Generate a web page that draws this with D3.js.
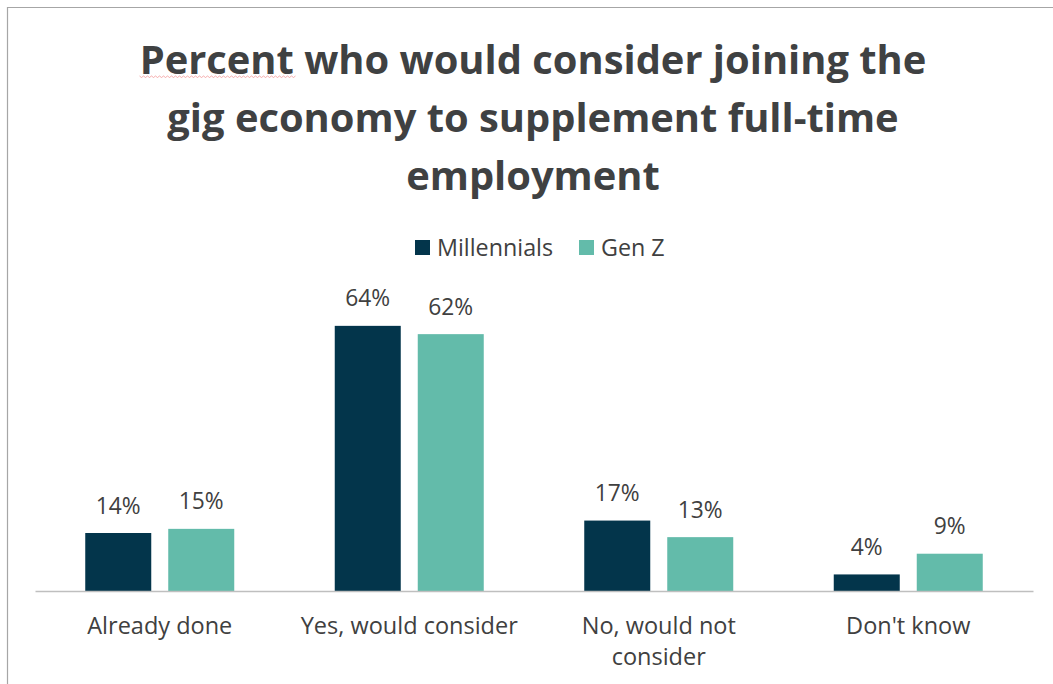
<!DOCTYPE html>
<html>
<head>
<meta charset="utf-8">
<script src="https://cdn.jsdelivr.net/npm/d3@7"></script>
<style>
  html, body { margin: 0; padding: 0; background: #fff; }
  svg { display: block; }
  text { font-family: "Open Sans", Lato, sans-serif; }
</style>
</head>
<body>
<svg id="chart" width="1053" height="684"></svg>
<script>
// Survey responses by generation
const categories = [["Already done"], ["Yes, would consider"], ["No, would not", "consider"], ["Don't know"]];
const seriesNames = ["Millennials", "Gen Z"];
const millennials = [14, 64, 17, 4];
const genZ = [15, 62, 13, 9];
const titleLines = ["Percent who would consider joining the", "gig economy to supplement full-time", "employment"];

const colors = { "Millennials": "#03354b", "Gen Z": "#63bbaa" };
const textColor = "#404040";

const svg = d3.select("#chart");
const W = 1053, H = 684;

// Frame (top and left edges visible)
svg.append("line").attr("x1", 7).attr("y1", 7.5).attr("x2", W).attr("y2", 7.5)
  .attr("stroke", "#a6a6a6").attr("stroke-width", 1.2);
svg.append("line").attr("x1", 7.5).attr("y1", 7).attr("x2", 7.5).attr("y2", H)
  .attr("stroke", "#a6a6a6").attr("stroke-width", 1.2);

// Title: size chosen so the first line spans the title width
const titleWidth = 787;
const probe = svg.append("text").attr("font-weight", "bold").attr("font-size", 40).text(titleLines[0]);
const titleSize = 40 * titleWidth / probe.node().getComputedTextLength();
probe.remove();

const title = svg.append("text")
  .attr("text-anchor", "middle")
  .attr("fill", "#3f4142")
  .attr("font-weight", "bold")
  .attr("font-size", titleSize);
titleLines.forEach((t, i) => {
  title.append("tspan").attr("x", 533).attr("y", 74 + i * 58).text(t);
});

// Spell-check style wavy underline beneath the first word
const firstWord = titleLines[0].split(" ")[0];
const measure = svg.append("text").attr("font-weight", "bold").attr("font-size", titleSize).text(firstWord);
const wordW = measure.node().getComputedTextLength();
measure.remove();
const wx0 = 533 - titleWidth / 2, wx1 = wx0 + wordW;
let wave = "M" + wx0 + ",76";
for (let x = wx0, k = 0; x < wx1; x += 2, k++) wave += "L" + (x + 2) + "," + (k % 2 ? 76 : 77.5);
svg.append("path").attr("d", wave).attr("fill", "none")
  .attr("stroke", "#f08080").attr("stroke-width", 0.9).attr("opacity", 0.7);

// Legend
const legendItems = [
  { name: seriesNames[0], x: 415 },
  { name: seriesNames[1], x: 579 }
];
const legend = svg.append("g");
legendItems.forEach(d => {
  legend.append("rect").attr("x", d.x).attr("y", 240).attr("width", 15).attr("height", 15)
    .attr("fill", colors[d.name]);
  legend.append("text").attr("x", d.x + 22).attr("y", 256)
    .attr("font-size", 23.3).attr("fill", textColor).text(d.name);
});

// Scales
const x0 = d3.scaleBand().domain(d3.range(categories.length)).range([35, 1033]).paddingInner(0).paddingOuter(0);
const groupInner = 149;
const x1 = d3.scaleBand().domain(seriesNames).range([0, groupInner]).paddingInner(17 / 83);
const y = d3.scaleLinear().domain([0, 70]).range([591, 301]);

const rows = categories.map((c, i) => ({ i, values: [
  { name: seriesNames[0], v: millennials[i] },
  { name: seriesNames[1], v: genZ[i] }
]}));

const groups = svg.append("g").selectAll("g").data(rows).join("g")
  .attr("transform", d => `translate(${x0(d.i) + (x0.bandwidth() - groupInner) / 2},0)`);

groups.selectAll("rect").data(d => d.values).join("rect")
  .attr("x", d => x1(d.name))
  .attr("y", d => y(d.v))
  .attr("width", x1.bandwidth())
  .attr("height", d => y(0) - y(d.v))
  .attr("fill", d => colors[d.name]);

groups.selectAll("text.val").data(d => d.values).join("text")
  .attr("class", "val")
  .attr("x", d => x1(d.name) + x1.bandwidth() / 2)
  .attr("y", d => y(d.v) - 19.5)
  .attr("text-anchor", "middle")
  .attr("font-size", 22.8)
  .attr("fill", textColor)
  .text(d => d.v + "%");

// Category axis
const axis = svg.append("g").attr("transform", `translate(0,${y(0)})`)
  .call(d3.axisBottom(x0).tickSize(0).tickFormat(""));
axis.select(".domain").attr("stroke", "#bfbfbf").attr("stroke-width", 1.3);

const catLabels = svg.append("g").selectAll("text").data(categories).join("text")
  .attr("text-anchor", "middle")
  .attr("font-size", 23.5)
  .attr("fill", textColor);
catLabels.each(function(lines, i) {
  d3.select(this).selectAll("tspan").data(lines).join("tspan")
    .attr("x", x0(i) + x0.bandwidth() / 2)
    .attr("y", (l, j) => 634 + j * 31)
    .text(l => l);
});
</script>
</body>
</html>
